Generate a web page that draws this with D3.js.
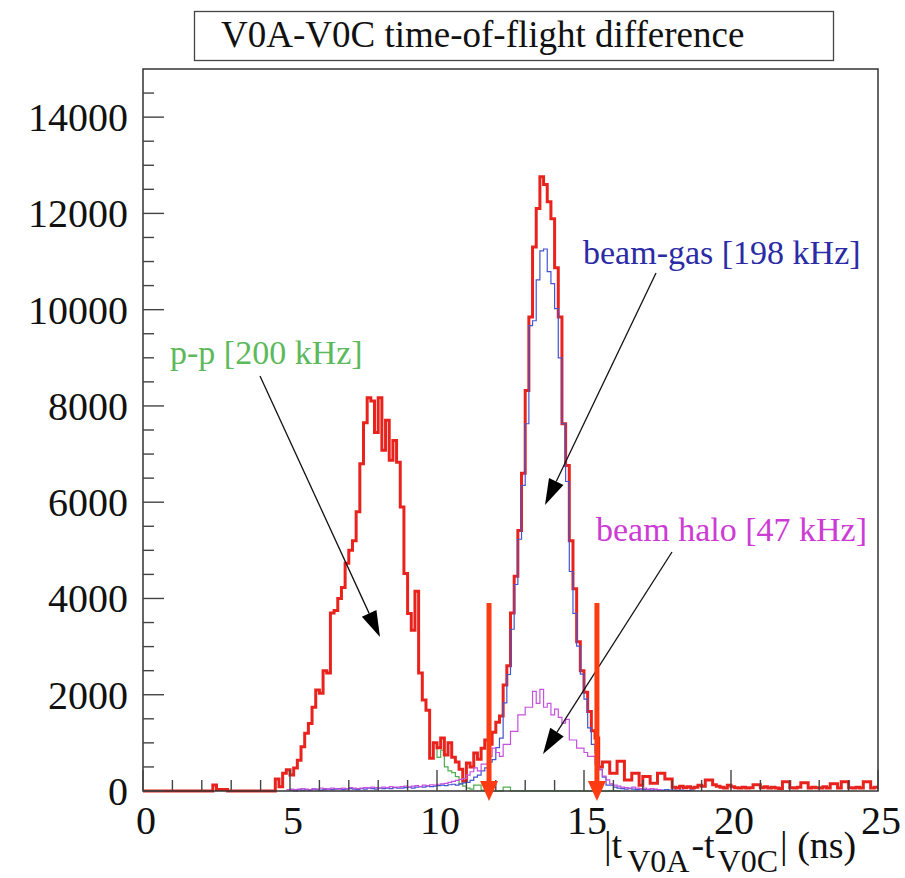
<!DOCTYPE html>
<html>
<head>
<meta charset="utf-8">
<script src="https://cdn.jsdelivr.net/npm/d3@7"></script>
<style>
  body { margin: 0; background: #fff; }
  svg { display: block; }
</style>
</head>
<body>
<svg id="chart" width="905" height="878"></svg>
<script>
// histogram binning: 200 bins of 0.125 ns over 0..25 ns
var binWidth = 0.125;

// total (red), one value per bin from 0 ns
var totalCounts = [
  0,0,0,0,0,0,0,0,0,0,
  0,0,0,0,0,0,0,0,0,125,
  30,30,30,0,0,0,0,0,0,0,
  0,0,0,0,0,0,250,90,370,440,
  330,480,640,920,1200,1400,1740,2100,2030,2500,
  2450,3700,3750,4000,4230,4730,5000,5200,5800,6800,
  7650,8170,8100,7450,8170,7080,7700,6870,7280,6830,
  5900,4520,3690,3340,4150,2450,1890,1680,680,1000,
  900,1100,750,1000,700,600,450,200,580,500,
  790,660,890,1060,970,1220,1430,1560,2200,2600,
  3700,4460,5410,6600,8320,9850,11300,12100,12760,12600,
  12240,11890,10870,9850,7630,6760,5200,4200,3100,2500,
  2050,1650,1250,1100,500,600,600,370,370,620,
  620,230,230,370,370,120,300,300,160,160,
  370,370,250,250,80,60,100,70,90,60,
  80,120,100,230,230,130,100,80,60,120,
  90,70,60,80,60,70,130,130,70,90,
  60,80,60,50,190,190,70,60,80,170,
  170,60,80,70,60,90,60,150,150,60,
  190,190,70,60,80,60,190,190,60,80
];

// p-p (green), first bin index and values
var ppStart = 36;
var ppCounts = [
  250,90,370,440,
  330,480,640,920,1200,1400,1740,2100,2030,2500,
  2450,3700,3750,4000,4230,4730,5000,5200,5800,6800,
  7650,8170,8100,7450,8170,7080,7700,6870,7280,6830,
  5900,4520,3690,3340,4150,2450,1890,1680,680,1000,
  700,850,500,420,380,300,150,100,60,40,
  120,120,20,0,0,0,0,0,80,80,
  0,0,0,0,0,0,0,0,0,0,
  0,0,0,0,0,0,0,0,0,0,
  0,0,0,0,0,0,0,0,0,0
];

// beam-gas (blue)
var gasStart = 40;
var gasCounts = [
  20,0,30,20,30,20,40,30,20,30,
  40,30,40,50,30,40,50,40,30,50,
  40,60,50,40,60,50,60,50,70,60,
  60,70,80,60,80,90,80,100,90,100,
  110,120,110,130,140,120,150,170,180,220,
  290,330,420,480,600,650,900,1100,1830,2420,
  3360,4290,5230,6350,7630,9670,9770,10620,11220,11260,
  10790,10540,10020,9000,7630,6430,4560,3690,3010,2430,
  1910,1310,970,790,450,290,120,120,80,60,
  50,40,50,40,30,40,30,30,20,30,
  20,20,30,20,20,10,20,10,10,20
];

// beam halo (magenta)
var haloStart = 39;
var haloCounts = [
  30,
  40,30,40,50,40,30,50,40,60,50,
  40,60,50,40,60,50,70,60,50,60,
  70,60,80,70,60,80,70,90,80,80,
  90,100,80,100,110,90,120,110,130,120,
  140,150,160,180,200,220,240,260,330,400,
  480,420,560,560,720,890,800,720,970,970,
  1240,1240,1580,1580,1740,1740,2070,1820,2110,1740,
  1820,1580,1700,1530,1410,1490,1060,1060,890,890,
  800,720,720,560,440,310,230,150,120,100,
  80,70,60,80,60,50,60,40,50,40,
  30
];

var xTicks = [0, 5, 10, 15, 20, 25];
var yTicks = [0, 2000, 4000, 6000, 8000, 10000, 12000, 14000];
var cutValues = [11.77, 15.44];

var titleText = "V0A-V0C time-of-flight difference";
var labels = [
  {text: "p-p [200 kHz]", color: "#5cba5c", x: 170, y: 364, from: [260, 376], to: [380, 637]},
  {text: "beam-gas [198 kHz]", color: "#2b2ba6", x: 583, y: 264, from: [656, 273], to: [545, 505]},
  {text: "beam halo [47 kHz]", color: "#cc3cd4", x: 596, y: 541, from: [672, 552], to: [543, 754]}
];

var svg = d3.select("#chart");
var font = "'Liberation Serif', 'Times New Roman', serif";

var x = d3.scaleLinear().domain([0, 25]).range([143, 878]);
var y = d3.scaleLinear().domain([0, 15000]).range([791, 69]);

// title box
svg.append("rect")
  .attr("x", 194.5).attr("y", 11.5).attr("width", 639).attr("height", 49)
  .attr("fill", "#fff").attr("stroke", "#444").attr("stroke-width", 1.3);
svg.append("text")
  .attr("x", 221).attr("y", 47)
  .style("font-family", font).style("font-size", "37px").attr("fill", "#111")
  .text(titleText);

// histogram outline
function histPath(start, counts) {
  var pts = [];
  counts.forEach(function(c, i) {
    var lo = (start + i) * binWidth;
    pts.push([lo, c], [lo + binWidth, c]);
  });
  return d3.line().x(function(d) { return x(d[0]); }).y(function(d) { return y(d[1]); })(pts);
}

svg.append("path").attr("d", histPath(ppStart, ppCounts))
  .attr("fill", "none").attr("stroke", "#4fae4f").attr("stroke-width", 1.2);
svg.append("path").attr("d", histPath(0, totalCounts))
  .attr("fill", "none").attr("stroke", "#e8231d").attr("stroke-width", 3);
svg.append("path").attr("d", histPath(gasStart, gasCounts))
  .attr("fill", "none").attr("stroke", "#4555d0").attr("stroke-width", 1.2);
svg.append("path").attr("d", histPath(haloStart, haloCounts))
  .attr("fill", "none").attr("stroke", "#c650e0").attr("stroke-width", 1.2);

// frame
svg.append("rect")
  .attr("x", x(0)).attr("y", y(15000))
  .attr("width", x(25) - x(0)).attr("height", y(0) - y(15000))
  .attr("fill", "none").attr("stroke", "#333").attr("stroke-width", 1.5);

// y ticks
var gy = svg.append("g");
d3.range(0, 15000, 500).forEach(function(v) {
  var major = v % 2000 === 0;
  gy.append("line")
    .attr("x1", x(0)).attr("x2", x(0) + (major ? 21 : 11))
    .attr("y1", y(v)).attr("y2", y(v))
    .attr("stroke", "#444").attr("stroke-width", 1.4);
});
yTicks.forEach(function(v) {
  gy.append("text")
    .attr("x", 128).attr("y", y(v) + 14)
    .attr("text-anchor", "end")
    .style("font-family", font).style("font-size", "40px").attr("fill", "#111")
    .text(v);
});

// x ticks
var gx = svg.append("g");
d3.range(0, 26, 1).forEach(function(v) {
  var major = v % 5 === 0;
  gx.append("line")
    .attr("x1", x(v)).attr("x2", x(v))
    .attr("y1", y(0)).attr("y2", y(0) - (major ? 21 : 11))
    .attr("stroke", "#444").attr("stroke-width", 1.4);
});
xTicks.forEach(function(v) {
  gx.append("text")
    .attr("x", x(v) + 3).attr("y", 834)
    .attr("text-anchor", "middle")
    .style("font-family", font).style("font-size", "40px").attr("fill", "#111")
    .text(v);
});

// x axis title
var xt = svg.append("text")
  .attr("x", 604).attr("y", 858)
  .style("font-family", font).style("font-size", "38px").attr("fill", "#111");
xt.append("tspan").text("|t");
xt.append("tspan").attr("dx", 5).attr("dy", 14).style("font-size", "32px").text("V0A");
xt.append("tspan").attr("dx", 2).attr("dy", -14).text("-t");
xt.append("tspan").attr("dx", 3).attr("dy", 14).style("font-size", "32px").text("V0C");
xt.append("tspan").attr("dx", 2).attr("dy", -14).text("| (ns)");

// black annotation arrows
function arrowHead(from, to, len, half) {
  var dx = to[0] - from[0], dy = to[1] - from[1];
  var d = Math.sqrt(dx * dx + dy * dy), ux = dx / d, uy = dy / d;
  var bx = to[0] - ux * len, by = to[1] - uy * len;
  return [[to[0], to[1]], [bx - uy * half, by + ux * half], [bx + uy * half, by - ux * half]];
}
labels.forEach(function(l) {
  svg.append("text")
    .attr("x", l.x).attr("y", l.y)
    .style("font-family", font).style("font-size", "34px").attr("fill", l.color)
    .text(l.text);
  var head = arrowHead(l.from, l.to, 26, 8);
  svg.append("line")
    .attr("x1", l.from[0]).attr("y1", l.from[1])
    .attr("x2", (head[1][0] + head[2][0]) / 2).attr("y2", (head[1][1] + head[2][1]) / 2)
    .attr("stroke", "#111").attr("stroke-width", 1.3);
  svg.append("polygon").attr("points", head.join(" ")).attr("fill", "#000");
});

// red cut arrows
cutValues.forEach(function(v) {
  var cx = x(v);
  svg.append("line")
    .attr("x1", cx).attr("x2", cx).attr("y1", 603).attr("y2", 784)
    .attr("stroke", "#ff3b12").attr("stroke-width", 5);
  svg.append("polygon")
    .attr("points", [[cx - 9, 781], [cx + 9, 781], [cx, 801]].join(" "))
    .attr("fill", "#ff3b12");
});
</script>
</body>
</html>
